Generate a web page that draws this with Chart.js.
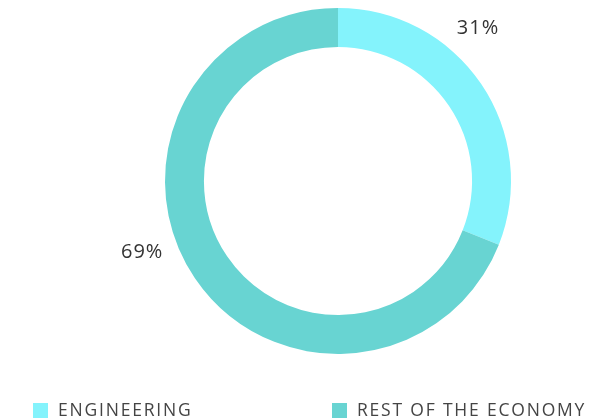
<!DOCTYPE html>
<html>
<head>
<meta charset="utf-8">
<script src="https://cdn.jsdelivr.net/npm/chart.js@4.4.0/dist/chart.umd.min.js"></script>
<style>
  html, body { margin: 0; padding: 0; background: #fff; }
  #wrap { width: 608px; height: 420px; position: relative; }
</style>
</head>
<body>
<div id="wrap"><canvas id="chart"></canvas></div>
<script>
const categories = ['ENGINEERING', 'REST OF THE ECONOMY'];
const shares     = [31, 69];
const colors     = ['#84F3FC', '#68D4D2'];

const FONT = '"Open Sans", "DejaVu Sans", sans-serif';

// percent labels outside the ring, plus a flat legend along the bottom edge
const ringLabels = {
  id: 'ringLabels',
  afterDraw(chart, args, opts) {
    const { ctx } = chart;
    const meta = chart.getDatasetMeta(0);
    ctx.save();
    ctx.font = `20px ${FONT}`;
    ctx.letterSpacing = '1px';
    ctx.fillStyle = '#333';
    ctx.textAlign = 'center';
    ctx.textBaseline = 'middle';
    meta.data.forEach((arc, i) => {
      const { x, y, outerRadius } = arc.getProps(['x', 'y', 'outerRadius'], true);
      const a = opts.angles[i] * Math.PI / 180;
      const r = outerRadius + opts.offset;
      ctx.fillText(shares[i] + '%', x + Math.cos(a) * r, y + Math.sin(a) * r + 1);
    });

    // legend
    ctx.font = `17.5px ${FONT}`;
    ctx.letterSpacing = '1.8px';
    ctx.textAlign = 'left';
    ctx.textBaseline = 'alphabetic';
    categories.forEach((name, i) => {
      const lx = opts.legendX[i];
      ctx.fillStyle = colors[i];
      ctx.fillRect(lx, 403, 15, 15);
      ctx.fillStyle = '#444';
      ctx.fillText(name, lx + 25, 416);
    });
    ctx.restore();
  }
};

new Chart(document.getElementById('chart'), {
  type: 'doughnut',
  data: {
    labels: categories,
    datasets: [{
      data: shares,
      backgroundColor: colors,
      borderWidth: 0,
    }],
  },
  options: {
    responsive: true,
    maintainAspectRatio: false,
    animation: false,
    cutout: '77.5%',
    layout: { padding: { top: 8, bottom: 66, left: 130, right: 62 } },
    plugins: {
      legend: { display: false },
      tooltip: { enabled: false },
      ringLabels: { angles: [-47.7, 160.3], offset: 35, legendX: [33, 332] },
    },
  },
  plugins: [ringLabels],
});
</script>
</body>
</html>
